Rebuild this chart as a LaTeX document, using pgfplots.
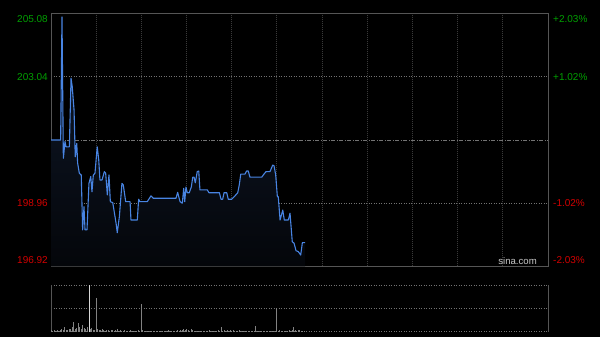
\documentclass[border=0pt]{standalone}
\usepackage{pgfplots}
\pgfplotsset{compat=1.18}
\usepackage{pgfplotstable}
\usepackage{fontspec}
\setmainfont{Liberation Sans}
\definecolor{upg}{RGB}{0,160,0}
\definecolor{dnr}{RGB}{210,0,0}
\definecolor{framec}{RGB}{85,85,85}
\definecolor{vgrid}{RGB}{58,58,58}
\definecolor{hgrid}{RGB}{115,115,115}
\definecolor{pline}{RGB}{72,132,226}
\definecolor{ftop}{RGB}{16,26,44}
\definecolor{fbot}{RGB}{4,6,10}
\definecolor{volc}{RGB}{130,130,130}
\definecolor{volhi}{RGB}{215,215,215}
\definecolor{wm}{RGB}{200,200,200}

\pgfplotstableread{
min price
0 201.00
6.4 201.00
7.3 204.97
8.2 200.41
9.3 200.95
10 200.78
12.2 200.78
13.3 202.99
14.1 202.72
15.3 201.97
16.1 200.46
17.1 200.89
17.7 200.25
18.8 199.93
20.1 199.87
21.0 198.10
21.9 198.85
22.6 198.10
23.9 198.10
25.2 199.60
26.4 199.82
27.2 199.33
28.1 199.87
29.2 199.93
30.7 200.78
31.7 200.36
32.5 199.71
33.9 199.71
35.4 199.98
36.3 199.93
37.4 199.23
38.5 199.87
39.4 199.01
41.0 198.98
43.2 198.32
44.0 198.01
45.4 198.53
47.1 199.60
48.0 199.55
49.6 199.01
52.5 199.01
53.1 198.42
57.3 198.42
58.2 199.09
59.1 199.01
63.9 199.01
66.4 199.20
67.9 199.12
72.4 199.12
83.0 199.12
84.1 199.31
85.7 199.01
87.2 198.96
88.1 199.44
88.8 199.01
89.6 199.48
90.5 199.30
91.8 199.30
93.2 199.49
94.1 199.80
95.0 199.80
95.8 199.62
97.1 199.98
98.1 200.00
98.9 199.39
103.8 199.39
104.9 199.30
111.8 199.30
112.9 199.09
114.0 199.09
114.9 199.30
116.7 199.30
117.7 199.09
120.0 199.09
122.2 199.20
124.0 199.30
125.0 199.55
126.0 199.90
128.8 199.90
129.9 200.00
131.0 200.00
132.1 199.80
139.9 199.80
141.4 199.90
142.8 199.98
145.4 199.98
147.2 200.19
148.1 200.17
149.2 199.87
150.3 199.17
150.9 199.17
152.1 198.42
153.9 198.74
154.9 198.42
157.6 198.42
158.7 198.64
160.2 197.72
161.4 197.67
162.7 197.43
164.2 197.40
165.8 197.29
166.9 197.69
168.7 197.69
}\pricedata

\pgfplotstableread{
min price
0 196.92
0 201.00
6.4 201.00
7.3 204.97
8.2 200.41
9.3 200.95
10 200.78
12.2 200.78
13.3 202.99
14.1 202.72
15.3 201.97
16.1 200.46
17.1 200.89
17.7 200.25
18.8 199.93
20.1 199.87
21.0 198.10
21.9 198.85
22.6 198.10
23.9 198.10
25.2 199.60
26.4 199.82
27.2 199.33
28.1 199.87
29.2 199.93
30.7 200.78
31.7 200.36
32.5 199.71
33.9 199.71
35.4 199.98
36.3 199.93
37.4 199.23
38.5 199.87
39.4 199.01
41.0 198.98
43.2 198.32
44.0 198.01
45.4 198.53
47.1 199.60
48.0 199.55
49.6 199.01
52.5 199.01
53.1 198.42
57.3 198.42
58.2 199.09
59.1 199.01
63.9 199.01
66.4 199.20
67.9 199.12
72.4 199.12
83.0 199.12
84.1 199.31
85.7 199.01
87.2 198.96
88.1 199.44
88.8 199.01
89.6 199.48
90.5 199.30
91.8 199.30
93.2 199.49
94.1 199.80
95.0 199.80
95.8 199.62
97.1 199.98
98.1 200.00
98.9 199.39
103.8 199.39
104.9 199.30
111.8 199.30
112.9 199.09
114.0 199.09
114.9 199.30
116.7 199.30
117.7 199.09
120.0 199.09
122.2 199.20
124.0 199.30
125.0 199.55
126.0 199.90
128.8 199.90
129.9 200.00
131.0 200.00
132.1 199.80
139.9 199.80
141.4 199.90
142.8 199.98
145.4 199.98
147.2 200.19
148.1 200.17
149.2 199.87
150.3 199.17
150.9 199.17
152.1 198.42
153.9 198.74
154.9 198.42
157.6 198.42
158.7 198.64
160.2 197.72
161.4 197.67
162.7 197.43
164.2 197.40
165.8 197.29
166.9 197.69
168.7 197.69
168.7 196.92
}\filldata

\pgfplotstableread{
min vol
0 3
1 2
2 3
3 2
4 3
5 2
6 4
7 5
8 3
9 9
10 4
11 3
12 5
13 6
14 10
15 21
16 5
17 7
18 19
19 9
20 6
21 14
22 7
23 5
24 9
26 5
27 8
28 4
29 3
30 72
31 5
32 4
33 3
34 5
35 3
36 2
37 4
38 3
39 2
40 3
41 4
42 2
43 3
44 5
45 2
46 3
47 2
48 2
49 3
50 2
51 2
52 1
53 3
54 2
55 2
56 1
57 2
58 3
59 2
60 59
61 3
62 2
63 1
64 2
65 2
66 1
67 2
68 1
69 1
70 2
71 1
72 1
73 2
74 1
75 1
76 2
77 2
78 4
79 2
80 1
81 2
82 1
83 2
84 3
85 2
86 3
87 4
88 5
89 3
90 6
91 4
92 2
93 5
94 3
95 2
96 2
97 1
98 2
99 1
100 1
101 2
102 1
103 2
104 2
105 4
106 2
107 1
108 2
109 1
110 2
111 3
112 2
113 11
114 2
115 3
116 2
117 4
118 2
119 3
120 2
121 3
122 2
123 1
124 2
125 3
126 2
127 1
128 2
129 1
130 2
131 1
132 1
133 2
134 1
135 2
136 13
137 2
138 1
139 2
140 1
141 2
142 1
143 1
144 2
145 1
146 2
147 1
148 2
149 1
150 50
151 2
152 3
153 2
154 1
155 2
156 1
157 2
158 3
159 2
160 4
161 9
162 3
163 2
164 4
165 3
166 2
167 1
168 2
}\voldata

\begin{document}
\begin{tikzpicture}[x=1pt,y=1pt]
\fill[black] (0,0) rectangle (600,337);
\path[use as bounding box] (0,0) rectangle (600,337);
\begin{axis}[
  at={(51pt,70.5pt)}, anchor=south west,
  scale only axis, width=497pt, height=253pt,
  xmin=0, xmax=330, ymin=196.92, ymax=205.08,
  clip=false,
  axis line style={framec, line width=0.9pt},
  xtick={30,60,...,300}, xticklabels={},
  ytick={198.96,203.04}, yticklabels={},
  extra y ticks={201}, extra y tick labels={},
  extra y tick style={y grid style={hgrid, line width=0.7pt, dash pattern=on 4pt off 1.5pt on 1pt off 1.5pt}},
  major tick length=0pt,
  xmajorgrids, ymajorgrids,
  x grid style={vgrid, line width=0.9pt, dash pattern=on 1pt off 1pt},
  y grid style={hgrid, line width=0.6pt, dash pattern=on 1pt off 1.5pt},
  font=\fontsize{10}{12}\selectfont,
]
\addplot[draw=none, top color=ftop, bottom color=fbot] table[x=min,y=price] {\filldata};
\addplot[pline, line width=1.1pt, line join=round] table[x=min,y=price] {\pricedata};
\node[anchor=north east, inner sep=0pt, text=upg] at (rel axis cs:0,1) [xshift=-3pt, yshift=-1.7pt] {205.08};
\node[anchor=east, inner sep=0pt, text=upg] at (axis cs:0,203.04) [xshift=-3pt] {203.04};
\node[anchor=east, inner sep=0pt, text=dnr] at (axis cs:0,198.96) [xshift=-3pt] {198.96};
\node[anchor=south east, inner sep=0pt, text=dnr] at (rel axis cs:0,0) [xshift=-3pt, yshift=2.5pt] {196.92};
\node[anchor=north west, inner sep=0pt, text=upg] at (rel axis cs:1,1) [xshift=5pt, yshift=-1.7pt] {+2.03\%};
\node[anchor=west, inner sep=0pt, text=upg] at (axis cs:330,203.04) [xshift=5pt] {+1.02\%};
\node[anchor=west, inner sep=0pt, text=dnr] at (axis cs:330,198.96) [xshift=5pt] {-1.02\%};
\node[anchor=south west, inner sep=0pt, text=dnr] at (rel axis cs:1,0) [xshift=5pt, yshift=2.5pt] {-2.03\%};
\node[anchor=base east, inner sep=0pt, text=wm, font=\fontsize{9.6}{11}\selectfont] at (rel axis cs:1,0) [xshift=-11pt, yshift=1.5pt] {sina.com};
\end{axis}

\begin{axis}[
  at={(51pt,5.3pt)}, anchor=south west,
  scale only axis, width=497pt, height=46.7pt,
  xmin=0, xmax=330, ymin=0, ymax=100,
  separate axis lines,
  x axis line style={hgrid, line width=0.6pt, dash pattern=on 1pt off 1.5pt},
  y axis line style={framec, line width=0.9pt},
  xtick=\empty, ytick={50}, yticklabels={},
  major tick length=0pt,
  ymajorgrids,
  y grid style={hgrid, line width=0.6pt, dash pattern=on 1pt off 1.5pt},
]
\addplot[ycomb, volc, line width=0.9pt, mark=none] table[x=min,y=vol] {\voldata};
\addplot[ycomb, volhi, line width=0.9pt, mark=none] coordinates {(25.4,100)};
\end{axis}
\end{tikzpicture}
\end{document}
